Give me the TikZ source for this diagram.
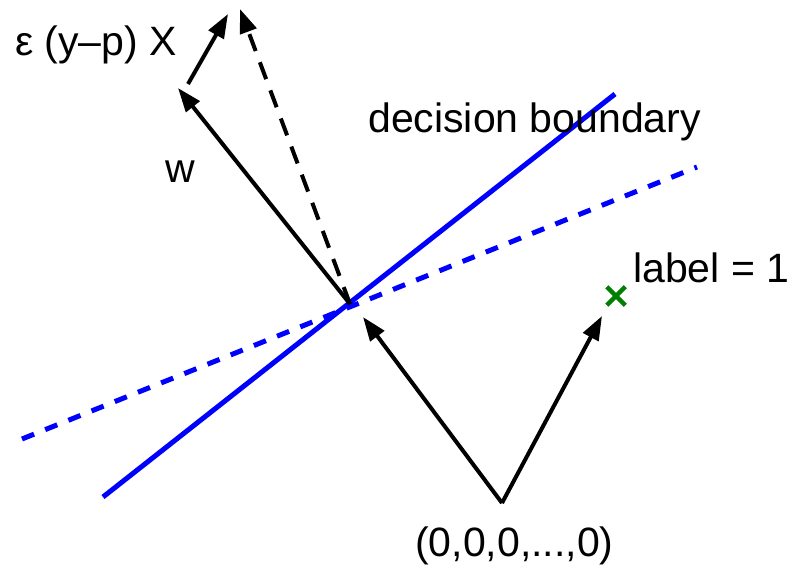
\documentclass[tikz,border=0pt]{standalone}
\usepackage{fontspec}
\setmainfont{Liberation Sans}
\usetikzlibrary{arrows.meta,shapes.misc}
\begin{document}
\begin{tikzpicture}[
        x=1pt, y=-1pt,
        vec/.style={
            line width=4pt,
            -{Triangle[length=24pt,width=17pt]}
        },
        boundary/.style={
            line width=5pt,
            blue
        },
        lbl/.style={
            anchor=base west,
            inner sep=0pt,
            font=\fontsize{41}{49}\selectfont
        }
    ]
        \useasboundingbox (0,0) rectangle (792,572);

        % Punti principali
        \coordinate (o) at (502,503);
        \coordinate (p) at (350,304);
        \coordinate (tipw) at (178,88);
        \coordinate (tipx) at (602,316);
        \coordinate (tipp) at (363,317);
        \coordinate (tipu) at (240,9);
        \coordinate (eps0) at (188,84);
        \coordinate (eps1) at (228,14);

        % Confini di decisione (vecchio e nuovo)
        \coordinate (b1) at (103,497);
        \coordinate (b2) at (615,94);
        \coordinate (d1) at (22,439);
        \coordinate (d2) at (697,167);
        \draw[boundary] (b1) -- (b2);
        \draw[boundary, dash pattern=on 13pt off 12pt] (d1) -- (d2);

        % Vettori
        \draw[vec] (o) -- (tipp);
        \draw[vec] (o) -- (tipx);
        \draw[vec] (p) -- (tipw);
        \draw[vec, dash pattern=on 18pt off 12pt] (p) -- (tipu);
        \draw[vec] (eps0) -- (eps1);

        % Esempio con etichetta 1
        \node[cross out, draw=green!50!black, line width=4.5pt, minimum size=14pt, inner sep=0pt] (ex) at (616,296) {};

        % Etichette
        \node[lbl] (leps) at (15,56) {ε (y–p) X};
        \node[lbl] (lw) at (165,183) {w};
        \node[lbl] (ldb) at (368,133) {decision boundary};
        \node[lbl] (lone) at (633,282) {label = 1};
        \node[lbl] (lo) at (415,556) {(0,0,0,...,0)};
\end{tikzpicture}
\end{document}
